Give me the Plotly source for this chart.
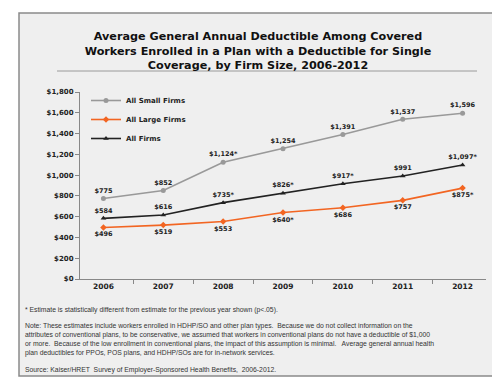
import plotly.graph_objects as go

years = ["2006", "2007", "2008", "2009", "2010", "2011", "2012"]
small_firms = [775, 852, 1124, 1254, 1391, 1537, 1596]
large_firms = [496, 519, 553, 640, 686, 757, 875]
all_firms = [584, 616, 735, 826, 917, 991, 1097]
small_labels = ["$775", "$852", "$1,124*", "$1,254", "$1,391", "$1,537", "$1,596"]
large_labels = ["$496", "$519", "$553", "$640*", "$686", "$757", "$875*"]
all_labels = ["$584", "$616", "$735*", "$826*", "$917*", "$991", "$1,097*"]
y_ticks = list(range(0, 1801, 200))
y_tick_labels = ["$0", "$200", "$400", "$600", "$800", "$1,000", "$1,200", "$1,400", "$1,600", "$1,800"]

W, H = 500, 383
L, R, T, B = 72, 478, 84, 271


def px(x):
    return (x - L) / (R - L)


def py(y):
    return (B - y) / (B - T)


lab_font = dict(family="DejaVu Sans", size=6.5, color="#222222", weight="bold")

fig = go.Figure()
fig.add_trace(go.Scatter(
    x=years, y=small_firms, name="All Small Firms", mode="lines+markers+text",
    text=small_labels, textposition="top center", textfont=lab_font,
    line=dict(color="#999999", width=1.6), marker=dict(symbol="circle", size=5, color="#999999")))
fig.add_trace(go.Scatter(
    x=years, y=large_firms, name="All Large Firms", mode="lines+markers+text",
    text=large_labels, textposition="bottom center", textfont=lab_font,
    line=dict(color="#f26522", width=1.6), marker=dict(symbol="diamond", size=5, color="#f26522")))
fig.add_trace(go.Scatter(
    x=years, y=all_firms, name="All Firms", mode="lines+markers+text",
    text=all_labels, textposition="top center", textfont=lab_font,
    line=dict(color="#222222", width=1.6), marker=dict(symbol="triangle-up", size=5, color="#222222")))

shapes = [
    dict(type="rect", xref="paper", yref="paper", x0=px(11), x1=px(490), y0=py(368), y1=py(5),
         fillcolor="#efefef", line=dict(color="#8a8a8a", width=1.5), layer="below"),
    dict(type="line", xref="paper", yref="paper", x0=px(49), x1=px(469), y0=py(63), y1=py(63),
         line=dict(color="#9a9a9a", width=1)),
]

note_font = dict(family="Liberation Sans", size=6.8, color="#333333")
annotations = [
    dict(xref="paper", yref="paper", x=px(15), y=py(302), xanchor="left", yanchor="middle",
         showarrow=False, align="left", font=note_font,
         text="* Estimate is statistically different from estimate for the previous year shown (p<.05)."),
    dict(xref="paper", yref="paper", x=px(15), y=py(331.5), xanchor="left", yanchor="middle",
         showarrow=False, align="left", font=note_font,
         text=("Note: These estimates include workers enrolled in HDHP/SO and other plan types.  Because we do not collect information on the<br>"
               "attributes of conventional plans, to be conservative, we assumed that workers in conventional plans do not have a deductible of $1,000<br>"
               "or more.  Because of the low enrollment in conventional plans, the impact of this assumption is minimal.   Average general annual health<br>"
               "plan deductibles for PPOs, POS plans, and HDHP/SOs are for in-network services.")),
    dict(xref="paper", yref="paper", x=px(15), y=py(362), xanchor="left", yanchor="middle",
         showarrow=False, align="left", font=note_font,
         text="Source: Kaiser/HRET  Survey of Employer-Sponsored Health Benefits,  2006-2012."),
]

fig.update_layout(
    width=W, height=H,
    margin=dict(l=L, r=W - R, t=T, b=H - B),
    paper_bgcolor="white", plot_bgcolor="rgba(0,0,0,0)",
    title=dict(text="Average General Annual Deductible Among Covered<br>Workers Enrolled in a Plan with a Deductible for Single<br>Coverage, by Firm Size, 2006-2012",
               x=0.5, xanchor="center", y=1 - 32 / H, yanchor="middle",
               font=dict(family="DejaVu Sans", size=11.2, color="#111111", weight="bold")),
    showlegend=True,
    legend=dict(x=px(78), y=py(78), xanchor="left", yanchor="top", bgcolor="rgba(0,0,0,0)",
                font=dict(family="DejaVu Sans", size=7, color="#222222", weight="bold"),
                itemwidth=30, tracegroupgap=0),
    shapes=shapes, annotations=annotations,
    xaxis=dict(type="category", showline=True, linecolor="#888888", linewidth=1,
               ticks="outside", tickson="boundaries", ticklen=4, tickcolor="#888888",
               showgrid=False, zeroline=False,
               tickfont=dict(family="DejaVu Sans", size=7.5, color="#222222", weight="bold")),
    yaxis=dict(range=[0, 1800], tickvals=y_ticks, ticktext=y_tick_labels,
               showline=True, linecolor="#888888", linewidth=1,
               ticks="outside", ticklen=4, tickcolor="#888888",
               showgrid=False, zeroline=False,
               tickfont=dict(family="DejaVu Sans", size=7, color="#222222", weight="bold")),
)

fig.write_html("out.html")
